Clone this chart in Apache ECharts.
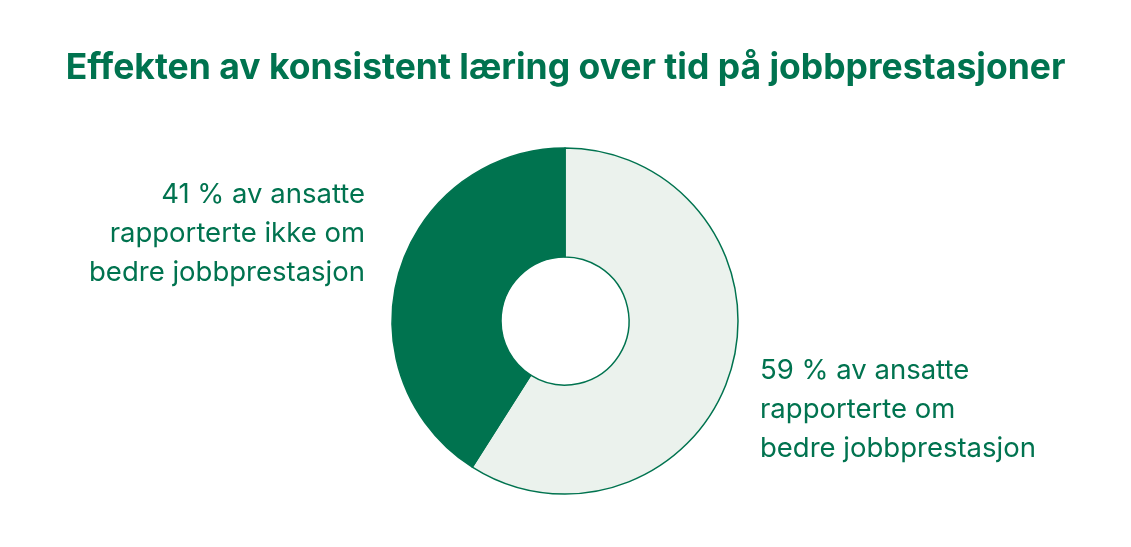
<!DOCTYPE html>
<html>
<head>
<meta charset="utf-8">
<script src="https://cdn.jsdelivr.net/npm/echarts@6/dist/echarts.min.js"></script>
<style>
  html, body { margin: 0; padding: 0; background: #ffffff; }
  #chart { width: 1131px; height: 547px; }
</style>
</head>
<body>
<div id="chart"></div>
<script>
// data
var titleText = 'Effekten av konsistent læring over tid på jobbprestasjoner';
var categories = ['rapporterte om bedre jobbprestasjon', 'rapporterte ikke om bedre jobbprestasjon'];
var values = [59, 41];
var labelLines = [
    ['rapporterte om', 'bedre jobbprestasjon'],
    ['rapporterte ikke om', 'bedre jobbprestasjon']
];
var colors = ['#ebf2ed', '#00734f'];

var green = '#00734f';
var font = 'Inter';

var myChart = echarts.init(document.getElementById('chart'), null, { renderer: 'canvas' });

var option = {
    backgroundColor: '#ffffff',
    title: {
        text: titleText,
        left: 'center',
        top: 45,
        textStyle: {
            color: green,
            fontFamily: font,
            fontWeight: 'bold',
            fontSize: 35.5
        }
    },
    series: [
        {
            type: 'pie',
            center: [565, 321],
            radius: [64, 173],
            startAngle: 90,
            clockwise: true,
            silent: true,
            data: categories.map(function (c, i) {
                return {
                    name: c,
                    value: values[i],
                    itemStyle: { color: colors[i] }
                };
            }),
            itemStyle: {
                borderColor: green,
                borderWidth: 1.5
            },
            label: {
                show: true,
                color: green,
                fontFamily: font,
                fontSize: 27.5,
                lineHeight: 39,
                formatter: function (p) {
                    return p.value + ' % av ansatte\n' + labelLines[p.dataIndex].join('\n');
                }
            },
            labelLine: { show: false },
            labelLayout: function (params) {
                if (params.dataIndex === 0) {
                    return { x: 760, y: 410, align: 'left', verticalAlign: 'middle' };
                }
                return { x: 365, y: 234, align: 'right', verticalAlign: 'middle' };
            }
        }
    ]
};

myChart.setOption(option);
</script>
</body>
</html>
